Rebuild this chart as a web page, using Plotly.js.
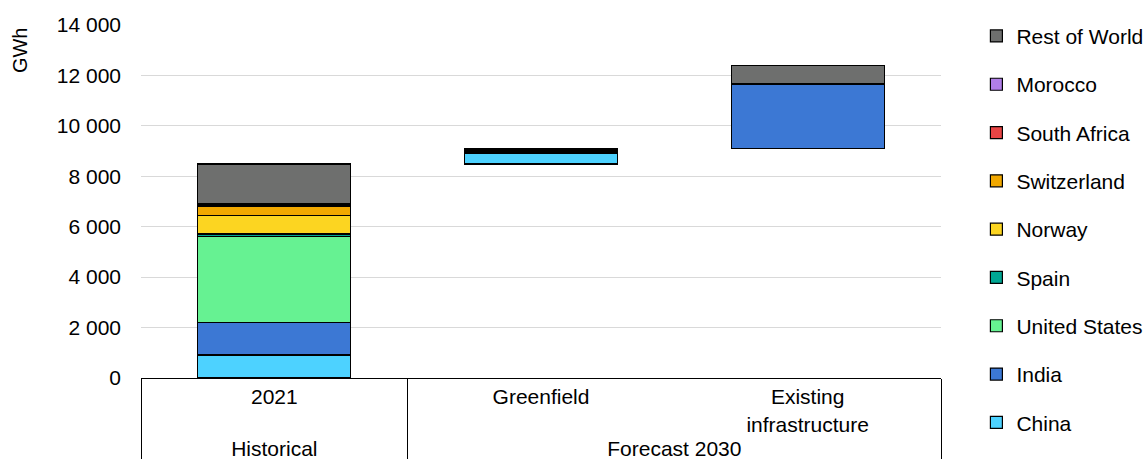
<!DOCTYPE html>
<html>
<head>
<meta charset="utf-8">
<script src="https://cdn.plot.ly/plotly-3.0.1.min.js"></script>
<style>html,body{margin:0;padding:0;background:#fff;}#chart{width:1144px;height:459px;}</style>
</head>
<body>
<div id="chart"></div>
<script>
// Category labels (two-level axis)
const categories = ['2021', 'Greenfield', 'Existing<br>infrastructure'];
const groups = ['Historical', 'Forecast 2030', 'Forecast 2030'];

// Series values (GWh)
const china        = [910, 420, null];
const india        = [1300, 30, 2550];
const unitedStates = [3400, 30, null];
const spain        = [100, 30, null];
const norway       = [750, 25, null];
const switzerland  = [360, 25, null];
const southAfrica  = [60, 30, null];
const morocco      = [40, 30, null];
const restOfWorld  = [1570, null, 730];

const seriesNames = ['China','India','United States','Spain','Norway','Switzerland','South Africa','Morocco','Rest of World'];
const seriesValues = [china, india, unitedStates, spain, norway, switzerland, southAfrica, morocco, restOfWorld];
const seriesColors = ['#4dd2ff','#3c78d4','#66f292','#00a693','#fcd521','#f1a800','#e84545','#b07ee8','#6e6f6e'];

// Waterfall base: each column starts at the cumulative total of the previous columns
const colTotals = categories.map((c, i) => seriesValues.reduce((s, arr) => s + (arr[i] || 0), 0));
const base = colTotals.map((t, i) => colTotals.slice(0, i).reduce((s, v) => s + v, 0));

const x = [groups, categories];

const traces = [{
  type: 'bar', x: x, y: base, name: 'base',
  marker: {color: 'rgba(0,0,0,0)', line: {width: 0}},
  showlegend: false, hoverinfo: 'skip'
}];
seriesNames.forEach((n, k) => {
  traces.push({
    type: 'bar', x: x, y: seriesValues[k], name: n, legendgroup: n,
    legendrank: seriesNames.length - k,
    marker: {color: seriesColors[k], line: {color: '#000', width: 1.2}}
  });
});

const layout = {
  width: 1144, height: 459,
  margin: {l: 141, r: 203, t: 25, b: 81},
  paper_bgcolor: '#fff', plot_bgcolor: '#fff',
  font: {family: 'Liberation Sans, Arial, sans-serif', size: 21, color: '#000'},
  separators: '. ',
  barmode: 'stack', bargap: 0.426,
  showlegend: true,
  legend: {xref: 'container', yref: 'container', x: 0.8535, xanchor: 'left', y: 0.9656, yanchor: 'top',
           traceorder: 'grouped', tracegroupgap: 18, maxheight: 800, font: {size: 21}, bgcolor: 'rgba(0,0,0,0)'},
  xaxis: {type: 'multicategory', showline: true, linecolor: '#000', linewidth: 1,
          showdividers: true, dividercolor: '#000', dividerwidth: 1,
          showgrid: false, ticks: '', tickfont: {size: 21}},
  yaxis: {range: [0, 14000], dtick: 2000, tickformat: ',d', showgrid: true, gridcolor: '#d9d9d9', gridwidth: 1,
          zeroline: false, showline: false, ticks: '', ticklabelstandoff: 19, tickfont: {size: 21}},
  annotations: [{text: 'GWh', xref: 'paper', yref: 'paper', x: -0.152, y: 0.93, textangle: -90,
                 showarrow: false, font: {size: 20}, xanchor: 'center', yanchor: 'middle'}]
};

Plotly.newPlot('chart', traces, layout, {displayModeBar: false, staticPlot: true});
</script>
</body>
</html>
